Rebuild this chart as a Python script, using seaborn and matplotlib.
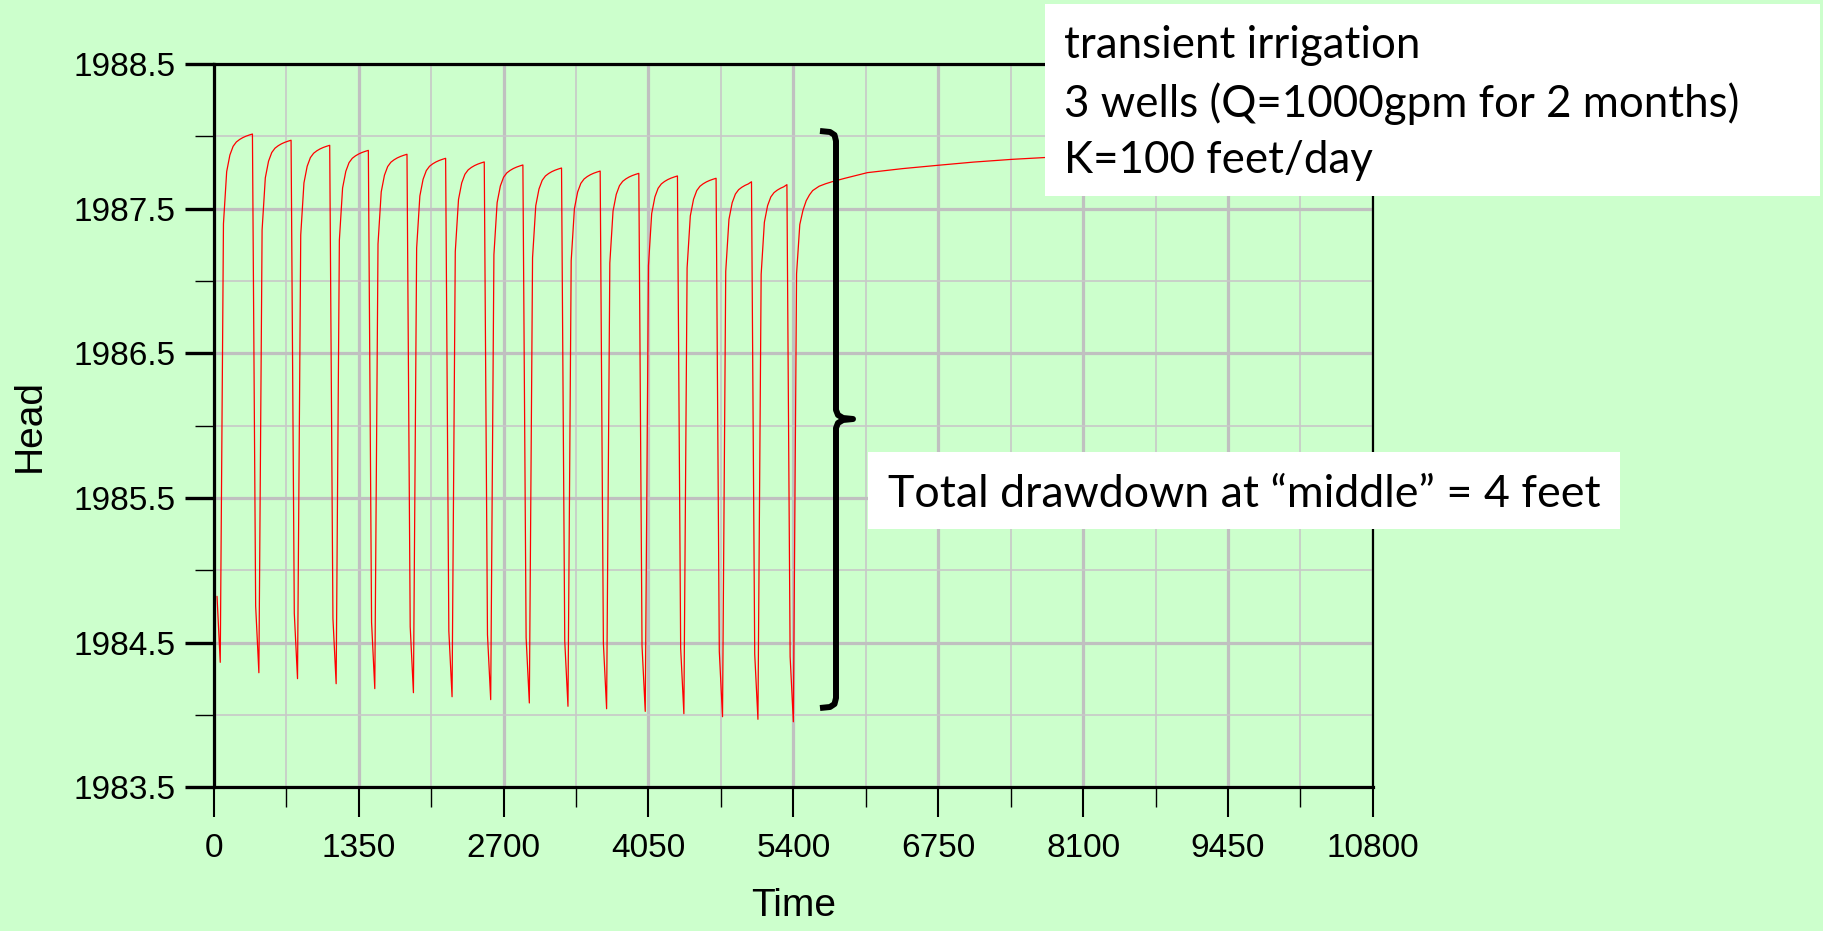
import numpy as np
import pandas as pd
import matplotlib
matplotlib.use("Agg")
import matplotlib.pyplot as plt
import seaborn as sns
from matplotlib.lines import Line2D
from matplotlib.patches import Rectangle

# ---------------- data ----------------
# mid-pumping points (30 days into each 2-month pumping period)
mid_times = [30, 390, 750, 1110, 1470, 1830, 2190, 2550, 2910, 3270, 3630,
             3990, 4350, 4710, 5040, 5370]
mid_heads = [1984.82, 1984.753, 1984.703, 1984.668, 1984.64, 1984.610,
             1984.580, 1984.555, 1984.534, 1984.511, 1984.495, 1984.477,
             1984.461, 1984.44, 1984.421, 1984.403]
# end of pumping (minimum head)
min_times = [60, 420, 780, 1140, 1500, 1860, 2220, 2580, 2940, 3300, 3660,
             4020, 4380, 4740, 5070, 5400]
min_heads = [1984.364, 1984.292, 1984.251, 1984.216, 1984.182, 1984.154,
             1984.126, 1984.106, 1984.083, 1984.060, 1984.043, 1984.025,
             1984.009, 1983.988, 1983.970, 1983.953]
# end of recovery (maximum head, just before pumping starts again)
peak_times = [360, 720, 1080, 1440, 1800, 2160, 2520, 2880, 3240, 3600,
              3960, 4320, 4680, 5010, 5340]
peak_heads = [1988.016, 1987.973, 1987.938, 1987.903, 1987.876, 1987.848,
              1987.823, 1987.802, 1987.781, 1987.760, 1987.744, 1987.726,
              1987.710, 1987.686, 1987.666]
# recovery: days after pumping stops, and head still below the coming peak
recovery_days = [30, 60, 90, 120, 150, 180, 210, 240, 270]
recovery_deficit = [0.62, 0.26, 0.145, 0.085, 0.055, 0.038, 0.025, 0.015, 0.007]
# final long recovery after the last pumping season
final_times = [5430, 5460, 5490, 5520, 5550, 5580, 5640, 5700, 5760, 5880,
               6090, 6420, 6750, 7080, 7440, 7740, 8100]
final_heads = [1987.05, 1987.39, 1987.49, 1987.555, 1987.595, 1987.625,
               1987.655, 1987.672, 1987.686, 1987.71, 1987.749, 1987.777,
               1987.800, 1987.822, 1987.841, 1987.853, 1987.868]

x_ticks = [0, 1350, 2700, 4050, 5400, 6750, 8100, 9450, 10800]
y_ticks = [1983.5, 1984.5, 1985.5, 1986.5, 1987.5, 1988.5]

box1_lines = ["transient irrigation",
              "3 wells (Q=1000gpm for 2 months)",
              "K=100 feet/day"]
box2_text = "Total drawdown at \u201cmiddle\u201d = 4 feet"

# ---------------- build series ----------------
times, heads = [], []
for i in range(len(min_times)):
    times.append(mid_times[i]); heads.append(mid_heads[i])
    times.append(min_times[i]); heads.append(min_heads[i])
    if i < len(peak_times):
        for d, dv in zip(recovery_days, recovery_deficit):
            t = min_times[i] + d
            if t < peak_times[i]:
                times.append(t); heads.append(peak_heads[i] - dv)
        times.append(peak_times[i]); heads.append(peak_heads[i])
times += final_times
heads += final_heads
df = pd.DataFrame({"Time": times, "Head": heads})

# ---------------- figure ----------------
sns.set_theme(style="white")
plt.rcParams['font.family'] = ['Liberation Sans', 'DejaVu Sans']

BG = '#CCFFCC'
W, H = 1824, 931
fig = plt.figure(figsize=(W / 100, H / 100), dpi=100, facecolor=BG)

def fx(px):
    return px / W

def fy(py):
    return 1 - py / H

ax_l, ax_r, ax_t, ax_b = 213.8, 1372.9, 64.0, 787.3
ax = fig.add_axes([fx(ax_l), fy(ax_b), (ax_r - ax_l) / W, (ax_b - ax_t) / H])
ax.set_facecolor(BG)

sns.lineplot(data=df, x="Time", y="Head", sort=False, estimator=None,
             color="#FF0000", linewidth=0.9, ax=ax)

ax.set_xlim(0, 10800)
ax.set_ylim(1983.5, 1988.5)
ax.set_xticks(x_ticks)
ax.set_xticks([t + 675 for t in x_ticks[:-1]], minor=True)
ax.set_yticks(y_ticks)
ax.set_yticks([v + 0.5 for v in y_ticks[:-1]], minor=True)
ax.set_xticklabels([str(t) for t in x_ticks])
ax.set_yticklabels([f"{v:.1f}" for v in y_ticks])

ax.set_axisbelow(True)
ax.grid(which='major', color='#C0C0C0', linewidth=2.3)
ax.grid(which='minor', color='#C8C8C8', linewidth=1.2)

ax.tick_params(which='both', bottom=True, left=True, top=False, right=False,
               direction='out', color='black')
ax.tick_params(axis='y', which='major', length=20.7, width=2.4,
               labelsize=24, pad=7, labelcolor='black')
ax.tick_params(axis='y', which='minor', length=13.7, width=1.0)
ax.tick_params(axis='x', which='major', length=21.6, width=1.5,
               labelsize=24, pad=11.5, labelcolor='black')
ax.tick_params(axis='x', which='minor', length=14.4, width=1.0)

for name, sp in ax.spines.items():
    sp.set_visible(True)
    sp.set_color('black')
    sp.set_linewidth(2.3)
ax.spines['right'].set_linewidth(1.6)

ax.set_xlabel("Time", fontsize=28, color='black')
ax.set_ylabel("Head", fontsize=28, color='black')
ax.xaxis.label.set_va('center')
ax.yaxis.label.set_va('center')
ax.xaxis.set_label_coords(0.5, (ax_b - 906) / (ax_b - ax_t))
ax.yaxis.set_label_coords((30 - ax_l) / (ax_r - ax_l), 0.5)

# ---------------- bracket ----------------
br_x = [820, 830, 834.5, 836, 836, 838, 843, 853, 843, 838, 836, 836, 834.5, 830, 820]
br_y = [131, 132, 135, 141, 410, 415, 418, 419, 420, 423, 428, 698, 704, 707, 708]
fig.add_artist(Line2D([fx(v) for v in br_x], [fy(v) for v in br_y],
                      transform=fig.transFigure, color='black', linewidth=4.3,
                      solid_joinstyle='round', solid_capstyle='butt', zorder=4))

# ---------------- text boxes ----------------
fig.add_artist(Rectangle((fx(1045), fy(196)), (1820 - 1045) / W, (196 - 4) / H,
                         transform=fig.transFigure, facecolor='white',
                         edgecolor='none', zorder=4))
fig.add_artist(Rectangle((fx(868), fy(529)), (1620 - 868) / W, (529 - 452) / H,
                         transform=fig.transFigure, facecolor='white',
                         edgecolor='none', zorder=4))

tfam = ['Lato', 'DejaVu Sans']
box1_base = [58.3, 116.7, 173.3]
t1 = [fig.text(fx(1064), fy(b), s, fontsize=30, family=tfam, ha='left',
               va='baseline', color='black', zorder=5)
      for s, b in zip(box1_lines, box1_base)]
t2 = fig.text(fx(888), fy(506.7), box2_text, fontsize=35, family=tfam,
              ha='left', va='baseline', color='black', zorder=5)

fig.canvas.draw()
r = fig.canvas.get_renderer()
w1 = t1[1].get_window_extent(r).width
for t in t1:
    t.set_fontsize(30 * 674 / w1)
w2 = t2.get_window_extent(r).width
t2.set_fontsize(35 * 712 / w2)

fig.savefig("out.png", dpi=100, facecolor=BG)
